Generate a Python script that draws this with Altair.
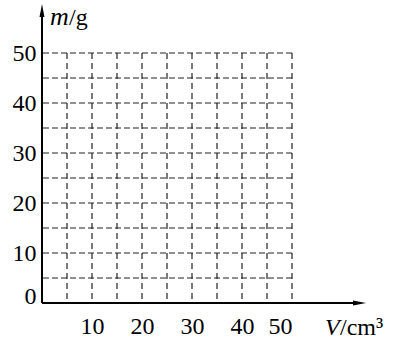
import altair as alt
import pandas as pd

# tick labels and grid positions
x_ticks = [10, 20, 30, 40, 50]
y_ticks = [0, 10, 20, 30, 40, 50]
grid_vals = [5, 10, 15, 20, 25, 30, 35, 40, 45, 50]

grid_df = pd.DataFrame({"v": grid_vals})
one = pd.DataFrame({"a": [0]})

FONT = "Liberation Serif"
FS = 24
xscale = alt.Scale(domain=[0, 50], nice=False, zero=True)
yscale = alt.Scale(domain=[0, 50], nice=False, zero=True)
GRID_COLOR = "#222222"

hgrid = alt.Chart(grid_df).mark_rule(
    color=GRID_COLOR, strokeWidth=1.2, strokeDash=[6, 3]
).encode(
    y=alt.Y("v:Q", scale=yscale, title=None,
            axis=alt.Axis(values=y_ticks, grid=False, ticks=False, domain=False,
                          labelFont=FONT, labelFontSize=FS, labelColor="black",
                          labelPadding=6,
                          labelBaseline={"condition": {"test": "datum.value == 0", "value": "alphabetic"},
                                         "value": "middle"}))
)

vgrid = alt.Chart(grid_df).mark_rule(
    color=GRID_COLOR, strokeWidth=1.2, strokeDash=[6, 4]
).encode(
    x=alt.X("v:Q", scale=xscale, title=None,
            axis=alt.Axis(values=x_ticks, grid=False, ticks=False, domain=False,
                          labelFont=FONT, labelFontSize=FS, labelColor="black",
                          labelPadding=11, labelBaseline="top"))
)

base = alt.Chart(one)

x_axis_line = base.mark_rule(color="black", strokeWidth=2).encode(
    x=alt.value(0), x2=alt.value(318), y=alt.value(250)
)
y_axis_line = base.mark_rule(color="black", strokeWidth=2).encode(
    x=alt.value(0), y=alt.value(250), y2=alt.value(-43)
)
x_arrow = base.mark_point(
    shape="M-1,-0.38L1,0L-1,0.38Z", filled=True, color="black", opacity=1, size=169
).encode(x=alt.value(317.5), y=alt.value(250))
y_arrow = base.mark_point(
    shape="M-0.38,1L0,-1L0.38,1Z", filled=True, color="black", opacity=1, size=169
).encode(x=alt.value(0), y=alt.value(-42.5))

m_txt = base.mark_text(font=FONT, fontSize=26, fontStyle="italic", align="left",
                       baseline="alphabetic", color="black").encode(
    x=alt.value(8), y=alt.value(-28), text=alt.value("m"))
g_txt = base.mark_text(font=FONT, fontSize=FS, align="left",
                       baseline="alphabetic", color="black").encode(
    x=alt.value(27), y=alt.value(-28), text=alt.value("/g"))
V_txt = base.mark_text(font=FONT, fontSize=FS, fontStyle="italic", align="left",
                       baseline="alphabetic", color="black").encode(
    x=alt.value(283), y=alt.value(282), text=alt.value("V"))
cm_txt = base.mark_text(font=FONT, fontSize=FS, align="left",
                        baseline="alphabetic", color="black").encode(
    x=alt.value(298), y=alt.value(282), text=alt.value("/cm³"))

chart = alt.layer(
    hgrid, vgrid, x_axis_line, y_axis_line, x_arrow, y_arrow,
    m_txt, g_txt, V_txt, cm_txt
).properties(
    width=250, height=250,
    padding={"left": 42, "top": 53, "right": 108, "bottom": 39},
    autosize=alt.AutoSizeParams(type="none"),
    background="white",
).configure_view(stroke=None)

chart.save("out.html", embed_options={"renderer": "svg", "actions": False})
